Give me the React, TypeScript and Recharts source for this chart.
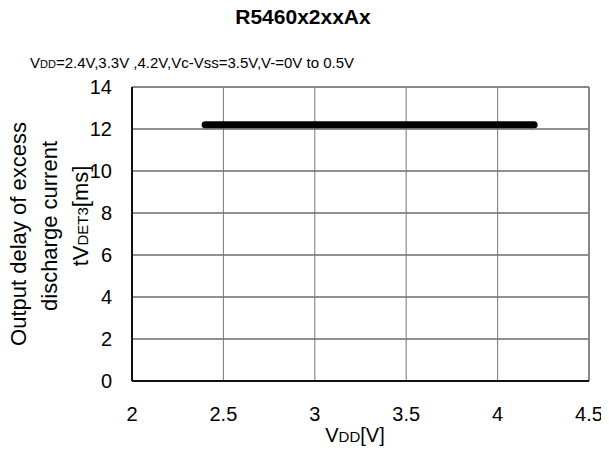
import React from 'react';
import {
  LineChart,
  Line,
  XAxis,
  YAxis,
  CartesianGrid,
  ReferenceLine,
} from 'recharts';

const vddPoints = [2.4, 3.3, 4.2];
const delayValues = [12.2, 12.2, 12.2];
const xTicks = [2, 2.5, 3, 3.5, 4, 4.5];
const yTicks = [0, 2, 4, 6, 8, 10, 12, 14];

const data = vddPoints.map((v, i) => ({ vdd: v, delay: delayValues[i] }));

const FONT = '"Liberation Sans", Arial, sans-serif';

function YLabel() {
  return (
    <g fontFamily={FONT} fill="#000" fontSize={22}>
      <text x={26} y={234} textAnchor="middle" transform="rotate(-90, 26, 234)">
        Output delay of excess
      </text>
      <text x={57} y={226} textAnchor="middle" transform="rotate(-90, 57, 226)">
        discharge current
      </text>
      <text x={88} y={216} textAnchor="middle" transform="rotate(-90, 88, 216)">
        tV<tspan fontSize={15}>DET3</tspan>[ms]
      </text>
    </g>
  );
}

export default function App() {
  return (
    <div style={{ margin: -8, width: 609, height: 455, background: '#fff', position: 'relative' }}>
      <svg width={609} height={80} style={{ position: 'absolute', left: 0, top: 0 }}>
        <text x={303} y={24} textAnchor="middle" fontFamily={FONT} fontWeight="bold" fontSize={21}>
          R5460x2xxAx
        </text>
        <text x={30} y={68} fontFamily={FONT} fontSize={15}>
          V<tspan fontSize={11}>DD</tspan>=2.4V,3.3V ,4.2V,Vc-Vss=3.5V,V-=0V to 0.5V
        </text>
      </svg>
      <LineChart
        width={609}
        height={455}
        data={data}
        margin={{ top: 87, right: 20, bottom: 0, left: 0 }}
        style={{ position: 'absolute', left: 0, top: 0 }}
      >
        <CartesianGrid horizontal vertical={false} stroke="#222" strokeWidth={1} />
        <CartesianGrid horizontal={false} vertical stroke="#777" strokeWidth={1} />
        <XAxis
          dataKey="vdd"
          type="number"
          domain={[2, 4.5]}
          ticks={xTicks}
          height={74}
          tickLine={false}
          tickSize={0}
          tickMargin={26}
          axisLine={{ stroke: '#111', strokeWidth: 2 }}
          tick={{ fontSize: 20, fill: '#000', fontFamily: FONT }}
          label={(props: any) => (
            <text x={355} y={442} textAnchor="middle" fontFamily={FONT} fontSize={20} fill="#000">
              V<tspan fontSize={15}>DD</tspan>[V]
            </text>
          )}
        />
        <YAxis
          type="number"
          domain={[0, 14]}
          ticks={yTicks}
          width={132}
          tickLine={false}
          tickSize={0}
          tickMargin={20}
          axisLine={{ stroke: '#111', strokeWidth: 2 }}
          tick={{ fontSize: 20, fill: '#000', fontFamily: FONT }}
          label={() => <YLabel />}
        />
        <ReferenceLine y={14} stroke="#888" strokeWidth={2} />
        <ReferenceLine x={4.5} stroke="#888" strokeWidth={2} />
        <Line
          type="linear"
          dataKey="delay"
          stroke="#000"
          strokeWidth={7}
          strokeLinecap="round"
          dot={false}
          isAnimationActive={false}
        />
      </LineChart>
    </div>
  );
}
